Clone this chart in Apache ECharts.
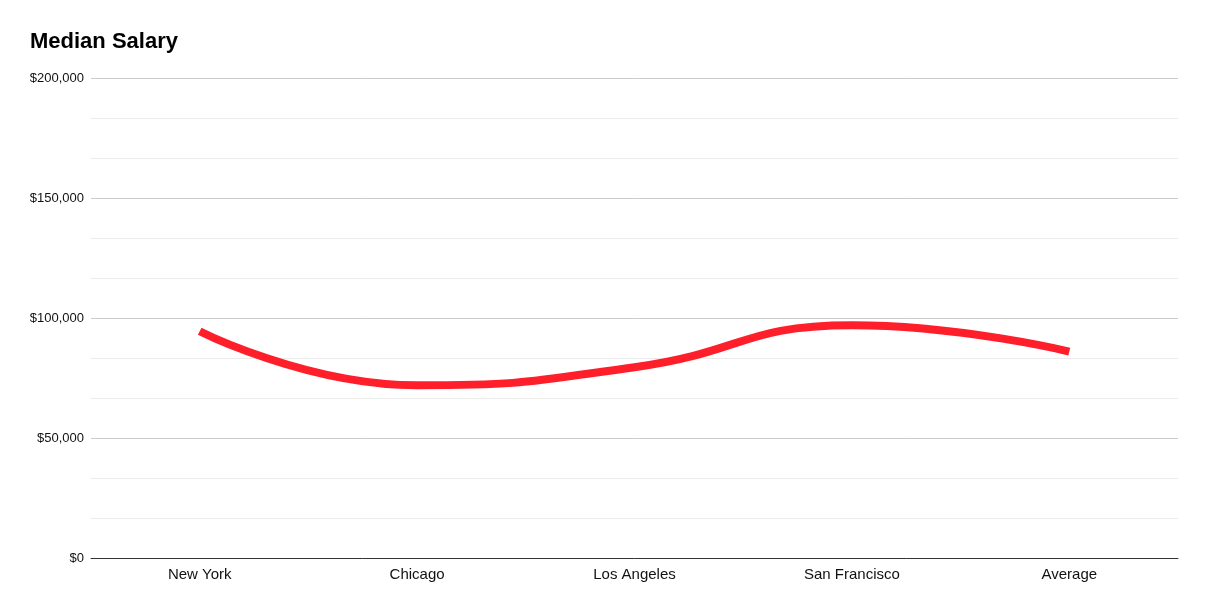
<!DOCTYPE html>
<html>
<head>
<meta charset="utf-8">
<script src="https://cdn.jsdelivr.net/npm/echarts@6/dist/echarts.min.js"></script>
<style>
html,body{margin:0;padding:0;background:#fff;}
#chart{width:1207px;height:610px;}
</style>
</head>
<body>
<div id="chart"></div>
<script>
const categories = ['New York', 'Chicago', 'Los Angeles', 'San Francisco', 'Average'];
const salaries = [94500, 72000, 79500, 97000, 86000];
const yTicks = { min: 0, max: 200000, interval: 50000 };

const chart = echarts.init(document.getElementById('chart'));
chart.setOption({
  animation: false,
  backgroundColor: '#fff',
  textStyle: { fontFamily: 'Liberation Sans, Arial, sans-serif' },
  title: {
    text: 'Median Salary',
    left: 25, top: 26,
    textStyle: { fontSize: 22, fontWeight: 'bold', color: '#000', fontFamily: 'Liberation Sans, Arial, sans-serif' }
  },
  grid: { left: 91, right: 29, top: 78, bottom: 52 },
  xAxis: {
    type: 'category',
    data: categories,
    boundaryGap: true,
    axisLine: { lineStyle: { color: '#333', width: 1 } },
    axisTick: { show: false },
    axisLabel: { color: '#111', fontSize: 15, margin: 9 }
  },
  yAxis: {
    type: 'value',
    min: yTicks.min, max: yTicks.max, interval: yTicks.interval,
    axisLine: { show: false },
    axisTick: { show: false },
    axisLabel: {
      color: '#111', fontSize: 13, margin: 7,
      formatter: v => '$' + v.toLocaleString('en-US')
    },
    splitLine: { lineStyle: { color: '#ccc', width: 1 } },
    minorTick: { show: false, splitNumber: 3 },
    minorSplitLine: { show: true, lineStyle: { color: '#ebebeb', width: 1 } }
  },
  series: [{
    type: 'line',
    data: salaries,
    smooth: 0.5,
    showSymbol: false,
    symbol: 'none',
    lineStyle: { color: '#ff1f2b', width: 8, cap: 'butt' }
  }]
});
</script>
</body>
</html>
